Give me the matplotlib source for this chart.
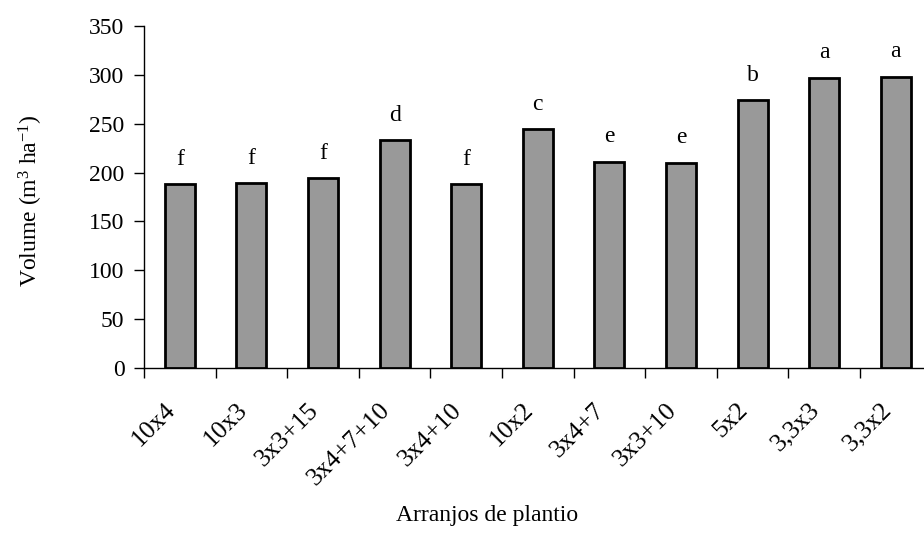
import numpy as np
import matplotlib.pyplot as plt

arranjos = ["10x4", "10x3", "3x3+15", "3x4+7+10", "3x4+10", "10x2",
            "3x4+7", "3x3+10", "5x2", "3,3x3", "3,3x2"]
volume = [188, 189, 194, 233, 188, 244, 211, 210, 274, 297, 298]
letras = ["f", "f", "f", "d", "f", "c", "e", "e", "b", "a", "a"]

plt.rcParams["font.family"] = ["Liberation Serif", "DejaVu Serif"]
plt.rcParams["font.size"] = 17
plt.rcParams["mathtext.default"] = "regular"

fig = plt.figure(figsize=(9.24, 5.34), dpi=100)
ax = fig.add_axes([0.1558, 0.3103, 1.0082 - 0.1558, 0.9519 - 0.3103])

x = np.arange(len(arranjos))
ax.bar(x, volume, width=0.42, color="#999999", edgecolor="black", linewidth=2, zorder=3)

for xi, v, l in zip(x, volume, letras):
    ax.annotate(l, (xi, v), xytext=(0, 14), textcoords="offset points",
                ha="center", va="baseline")

ax.set_xlim(-0.5, len(arranjos) - 0.5)
ax.set_ylim(0, 350)
ax.set_yticks(np.arange(0, 351, 50))
ax.set_xticks(x - 0.5, minor=False)
ax.set_xticklabels([])
ax.set_xticks(x, minor=True)
ax.set_xticklabels(arranjos, minor=True, rotation=45, ha="right", fontsize=18.5)
ax.tick_params(axis="x", which="minor", length=0, pad=22)
ax.tick_params(axis="x", which="major", length=7, width=1, direction="out")
ax.tick_params(axis="y", length=7, width=1, direction="out", pad=7)

for s in ["top", "right"]:
    ax.spines[s].set_visible(False)
ax.spines["left"].set_linewidth(1)
ax.spines["bottom"].set_linewidth(1)

fig.text(31 / 924, 1 - 201 / 534, "Volume (m$^{3}$ ha$^{-1}$)", rotation=90,
         ha="center", va="center")
fig.text(487 / 924, 1 - 515 / 534, "Arranjos de plantio", ha="center", va="center")

fig.savefig("out.png", dpi=100)
